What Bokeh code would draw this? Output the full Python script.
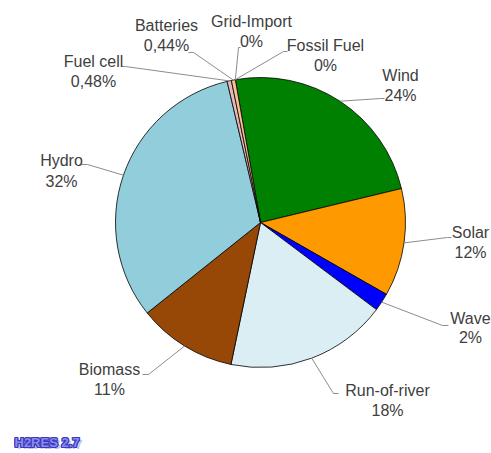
import math
from bokeh.plotting import figure
from bokeh.models import ColumnDataSource, Range1d
from bokeh.core.properties import value
from bokeh.embed import file_html
from bokeh.resources import INLINE

# ---------------- data ----------------
labels = ["Wind", "Solar", "Wave", "Run-of-river", "Biomass", "Hydro",
          "Fuel cell", "Batteries", "Grid-Import", "Fossil Fuel"]
values = [24, 12, 2, 18, 11, 32, 0.48, 0.44, 0, 0]
pct_labels = ["24%", "12%", "2%", "18%", "11%", "32%", "0,48%", "0,44%", "0%", "0%"]
colors = ["#008000", "#FF9900", "#0000FF", "#DAEEF3", "#974806", "#92CDDC",
          "#E6B9B8", "#FAC090", "#7F7F7F", "#404040"]
logo_text = "H2RES 2.7"

# ---------------- layout (reference pixel coords) ----------------
W, H = 491, 453
OFF = 0
CX, CY, R = 260, 222, 145
START = -10.0  # degrees, clockwise from north

# name: (text centre x, line1 y, line2 y, elbow x, elbow y, end x)
label_layout = {
    "Wind":         (400, 75, 95, 380, 98, 384),
    "Solar":        (470, 232, 252, 447, 237, 451),
    "Wave":         (470, 318, 337, 442, 325, 448),
    "Run-of-river": (387, 390, 410, 333, 393, 338),
    "Biomass":      (109, 369, 389, 148, 374, 142),
    "Hydro":        (61, 160, 181, 87, 164, 81),
    "Fuel cell":    (93, 61, 81, 125, 66, 121),
    "Batteries":    (166, 25, 45, 193, 52, 188),
    "Grid-Import":  (251, 21, 41, 238, 47, 240),
    "Fossil Fuel":  (325, 45, 65, 283, 51, 287),
}


def dx(X):
    return X - OFF


def dy(Y):
    return (H + OFF) - Y


p = figure(width=W, height=H, output_backend="svg", toolbar_location=None,
           x_axis_type=None, y_axis_type=None, min_border=0,
           x_range=Range1d(0, W), y_range=Range1d(0, H))
p.outline_line_color = None
p.grid.visible = False
p.background_fill_color = "white"
p.border_fill_color = "white"

total = sum(values)
theta = START
w_start, w_end, w_col = [], [], []
mids = []
for v, c in zip(values, colors):
    span = v / total * 360.0
    t1, t2 = theta, theta + span
    mids.append((t1 + t2) / 2.0)
    if v > 0:
        w_start.append(math.radians(90 - t2))
        w_end.append(math.radians(90 - t1))
        w_col.append(c)
    theta = t2

wsrc = ColumnDataSource(dict(x=[dx(CX)] * len(w_col), y=[dy(CY)] * len(w_col),
                             s=w_start, e=w_end, c=w_col))
p.wedge(x="x", y="y", radius=R, start_angle="s", end_angle="e",
        direction="anticlock", fill_color="c", line_color="black",
        line_width=0.8, source=wsrc)

# leader lines
xs, ys = [], []
for name, m in zip(labels, mids):
    tx, y1, y2, ex, ey, endx = label_layout[name]
    sx = CX + R * math.sin(math.radians(m))
    sy = CY - R * math.cos(math.radians(m))
    xs.append([dx(sx), dx(ex), dx(endx)])
    ys.append([dy(sy), dy(ey), dy(ey)])
p.multi_line(xs=xs, ys=ys, line_color="#8C8C8C", line_width=1)

# labels
tx_, ty_, tt_ = [], [], []
for name, pl in zip(labels, pct_labels):
    tx, y1, y2, ex, ey, endx = label_layout[name]
    tx_ += [dx(tx), dx(tx)]
    ty_ += [dy(y1), dy(y2)]
    tt_ += [name, pl]
tsrc = ColumnDataSource(dict(x=tx_, y=ty_, t=tt_))
p.text(x="x", y="y", text="t", source=tsrc, text_align="center",
       text_baseline="middle", text_font=value("Liberation Sans"),
       text_font_size="16px", text_color="#404040")

# logo
LX, LY = 14, 442
logo_font = value("Liberation Sans")
logo_size = "13px"
p.text(x=[dx(LX + 3)], y=[dy(LY + 2)], text=[logo_text], text_align="left",
       text_baseline="middle", text_font=logo_font, text_font_style="bold",
       text_font_size=logo_size, text_color="#C4C4EE")
offs = [(-1, 0), (1, 0), (0, -1), (0, 1), (-1, -1), (1, 1), (-1, 1), (1, -1)]
p.text(x=[dx(LX + ox) for ox, oy in offs], y=[dy(LY + oy) for ox, oy in offs],
       text=[logo_text] * len(offs), text_align="left", text_baseline="middle",
       text_font=logo_font, text_font_style="bold", text_font_size=logo_size,
       text_color="#3A3AB8")
p.text(x=[dx(LX)], y=[dy(LY)], text=[logo_text], text_align="left",
       text_baseline="middle", text_font=logo_font, text_font_style="bold",
       text_font_size=logo_size, text_color="#8A8AF2")

open("out.html", "w").write(file_html(p, INLINE))
